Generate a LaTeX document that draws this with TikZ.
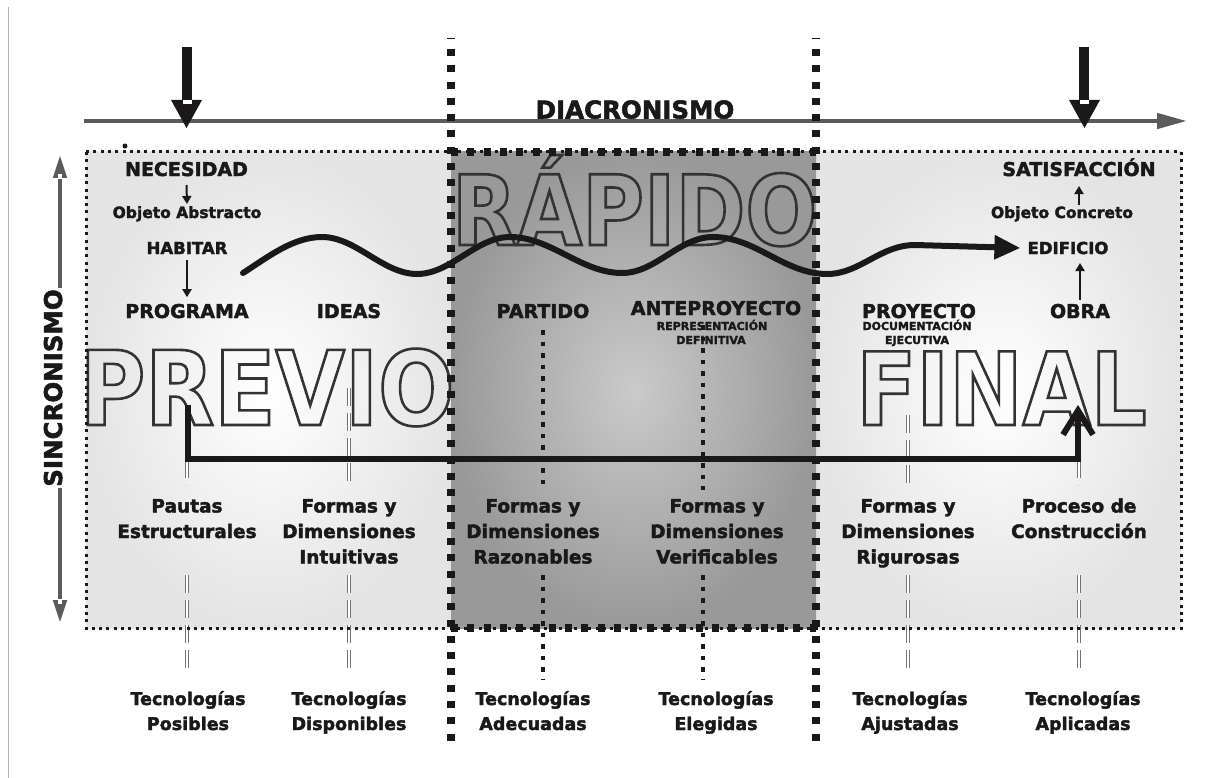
\documentclass[tikz,border=0pt]{standalone}
\usepackage{fontspec}
\setmainfont{DejaVu Sans}[BoldFeatures={FakeBold=2.2}]
\newfontfamily\widefont{DejaVu Sans}[FakeStretch=0.87]
\usetikzlibrary{arrows.meta}
\definecolor{ink}{HTML}{1B1819}
\definecolor{axisgray}{HTML}{5C5A5B}
\definecolor{panelrim}{HTML}{E4E4E4}
\definecolor{coreinner}{HTML}{CACACA}
\definecolor{coreouter}{HTML}{999999}
\definecolor{framegray}{HTML}{B4B4B4}
% stroked (hollow) glyphs for the large stage words
\newcommand\hollow[1]{\special{pdf:literal 1 Tr 2.6 w}#1\special{pdf:literal 0 Tr}}
% centred multi-line label whose baseline is the first line
\newcommand\colstack[1]{\begin{tabular}[t]{@{}c@{}}#1\end{tabular}}

\begin{document}
\begin{tikzpicture}[x=1pt,y=-1pt,line cap=butt,
  lab/.style={font=\bfseries\fontsize{19}{19}\selectfont,text=ink,inner sep=0pt,anchor=base},
  caplab/.style={font=\bfseries\fontsize{16.5}{16.5}\selectfont,text=ink,inner sep=0pt,anchor=base},
  sublab/.style={font=\bfseries\fontsize{11}{11}\selectfont,text=ink,inner sep=0pt,anchor=base},
  objlab/.style={font=\bfseries\fontsize{15.5}{15.5}\selectfont,text=ink,inner sep=0pt,anchor=base},
  midlab/.style={font=\bfseries\fontsize{18.5}{25.5}\selectfont,text=ink,inner sep=0pt,anchor=base},
  teclab/.style={font=\bfseries\fontsize{17.5}{25}\selectfont,text=ink,inner sep=0pt,anchor=base},
  axislab/.style={font=\bfseries\fontsize{24.5}{24.5}\selectfont,text=ink,inner sep=0pt,anchor=base},
  bigword/.style={text=black!80,inner sep=0pt,anchor=base},
  rimdots/.style={draw=ink,line width=3pt,dash pattern=on 3pt off 4.3pt},
  bigdots/.style={draw=ink,line width=7.5pt,dash pattern=on 7pt off 9.3pt},
  middots/.style={draw=ink,line width=4.5pt,dash pattern=on 4.5pt off 7pt},
  hollowtick/.style={draw=black!55,line width=0.7pt,double=white,double distance=1.8pt,dash pattern=on 18pt off 7pt},
  smallarrow/.style={draw=ink,line width=2pt,-{Triangle[length=8pt,width=9pt]}},
  wave/.style={draw=ink,line width=6pt,line cap=round,-{Triangle[length=26pt,width=23pt]}},
  route/.style={draw=ink,line width=6pt,-{Straight Barb[length=24pt,width=30pt]}},
  axisline/.style={draw=axisgray,line width=4.5pt},
]
\useasboundingbox (0,0) rectangle (1214,778);
\fill[white] (0,0) rectangle (1214,778);

% page frame line on the left
\draw[framegray,line width=1pt] (8,7) -- (8,778);

% the three stage panels
\shade[inner color=white,outer color=panelrim] (86,152) rectangle (451,628);
\shade[inner color=white,outer color=panelrim] (816,152) rectangle (1181,628);
\shade[inner color=coreinner,outer color=coreouter] (451,152) rectangle (816,628);

% large hollow stage words
\node[bigword,font=\widefont\bfseries\fontsize{103}{103}\selectfont] (previo) at (267,425) {\hollow{PREVIO}};
\node[bigword,font=\widefont\bfseries\fontsize{97}{97}\selectfont] (rapido) at (634.5,245) {\hollow{RÁPIDO}};
\node[bigword,font=\widefont\bfseries\fontsize{101}{101}\selectfont] (final) at (1001.5,425) {\hollow{FINAL}};

% diachronic axis
\coordinate (axstart) at (84,121);
\coordinate (axend) at (1187,121);
\draw[axisline,-{Triangle[length=30pt,width=15pt]}] (axstart) -- (axend);
\node[axislab] (diac) at (635,118.5) {DIACRONISMO};

% synchronic axis
\coordinate (sinctop) at (60,155);
\coordinate (sincbot) at (60,623);
\draw[axisline,{Triangle[length=23pt,width=13pt]}-{Triangle[length=23pt,width=13pt]}] (sinctop) -- (sincbot);
\fill[white] (58,174.5) rectangle (62,179);
\fill[white] (58,599) rectangle (62,603.5);
\node[axislab,rotate=90,fill=white,inner sep=1pt] (sinc) at (62,388) {SINCRONISMO};

% entry and exit markers on the time axis
\fill[ink] (182,47) rectangle (192,100);
\fill[ink] (171,100) -- (202,100) -- (186.5,128) -- cycle;
\fill[white] (182.5,100) rectangle (191.5,104.5);
\fill[ink] (1079,47) rectangle (1089,100);
\fill[ink] (1069,100) -- (1100,100) -- (1084.5,128) -- cycle;
\fill[white] (1079.5,100) rectangle (1088.5,104.5);

\fill[ink] (125,146) circle (2.5);

% stage labels
\node[lab] (nec) at (186.5,176) {NECESIDAD};
\node[objlab] (objA) at (187,218) {Objeto Abstracto};
\node[caplab] (habitar) at (187,254) {HABITAR};
\node[lab] (programa) at (187,318) {PROGRAMA};
\node[lab] (ideas) at (349,318) {IDEAS};
\node[lab] (partido) at (543,318) {PARTIDO};
\node[lab] (antep) at (716,315) {ANTEPROYECTO};
\node[sublab] (repr) at (712,330) {REPRESENTACIÓN};
\node[sublab] (defin) at (711,344) {DEFINITIVA};
\node[lab] (proy) at (919,318) {PROYECTO};
\node[sublab] (docu) at (917,330) {DOCUMENTACIÓN};
\node[sublab] (ejec) at (917,344) {EJECUTIVA};
\node[lab] (obra) at (1080,318) {OBRA};
\node[lab] (sat) at (1079,176) {SATISFACCIÓN};
\node[objlab] (objC) at (1062,218) {Objeto Concreto};
\node[caplab] (edif) at (1068,254) {EDIFICIO};

\node[midlab] (pautas) at (187,512.5) {\colstack{Pautas\\Estructurales}};
\node[midlab] (intuit) at (349,512.5) {\colstack{Formas y\\Dimensiones\\Intuitivas}};
\node[midlab] (razon) at (533,512.5) {\colstack{Formas y\\Dimensiones\\Razonables}};
\node[midlab] (verif) at (717,512.5) {\colstack{Formas y\\Dimensiones\\Verificables}};
\node[midlab] (rigur) at (908,512.5) {\colstack{Formas y\\Dimensiones\\Rigurosas}};
\node[midlab] (constr) at (1079,512.5) {\colstack{Proceso de\\Construcción}};

\node[teclab] (posib) at (188,705) {\colstack{Tecnologías\\Posibles}};
\node[teclab] (dispo) at (349,705) {\colstack{Tecnologías\\Disponibles}};
\node[teclab] (adec) at (533,705) {\colstack{Tecnologías\\Adecuadas}};
\node[teclab] (eleg) at (716,705) {\colstack{Tecnologías\\Elegidas}};
\node[teclab] (ajus) at (910,705) {\colstack{Tecnologías\\Ajustadas}};
\node[teclab] (aplic) at (1083,705) {\colstack{Tecnologías\\Aplicadas}};

% hollow guide ticks in the outer panels
\foreach \x/\ya in {187/460,349/388,908/415,1079/460}
  \draw[hollowtick] (\x,\ya) -- (\x,485);
\foreach \x in {187,349,908,1079}
  \draw[hollowtick] (\x,575) -- (\x,672);

% guide lines of the fast stage
\draw[middots] (543,330) -- (543,490);
\draw[middots] (543,575) -- (543,679);
\draw[middots] (703,325) -- (703,490);
\draw[middots] (703,575) -- (703,679);

% panel borders
\draw[rimdots] (86,152) rectangle (1181,628);
\draw[bigdots] (451,152) -- (816,152);
\draw[bigdots] (451,628) -- (816,628);
\draw[bigdots] (451,49) -- (451,745);
\draw[bigdots] (816,49) -- (816,745);
\draw[ink,line width=1pt] (447,39) -- (455,39);
\draw[ink,line width=1pt] (812,39) -- (820,39);

% small transitions
\draw[smallarrow] ([yshift=-9pt]nec.base) -- ([yshift=2pt]objA.north);
\draw[smallarrow] ([yshift=-6pt]habitar.base) -- ([yshift=6.5pt]programa.north);
\draw[smallarrow] ([yshift=1pt]sat.base |- objC.north) -- ([yshift=-10pt]sat.base);
\draw[smallarrow] ([yshift=4pt]obra.north) -- ([yshift=-9pt]obra.north |- edif.base);

% the design path
\coordinate (wstart) at (243,273);
\draw[wave] (wstart) .. controls (268,257) and (293,237) .. (322,237)
  .. controls (356,237) and (383,274) .. (417,274)
  .. controls (451,274) and (476,237) .. (510,237)
  .. controls (551,237) and (581,273) .. (622,273)
  .. controls (656,273) and (679,237) .. (713,237)
  .. controls (756,237) and (784,274) .. (827,274)
  .. controls (860,274) and (880,245) .. (915,245)
  -- ([xshift=-7pt]edif.west);

% feedback route from the previous to the final stage
\coordinate (lstart) at (188,405);
\coordinate (lbend) at (1078,459);
\coordinate (lend) at (1078,405);
\draw[route] (lstart) |- (lbend) -- (lend);
\end{tikzpicture}
\end{document}
